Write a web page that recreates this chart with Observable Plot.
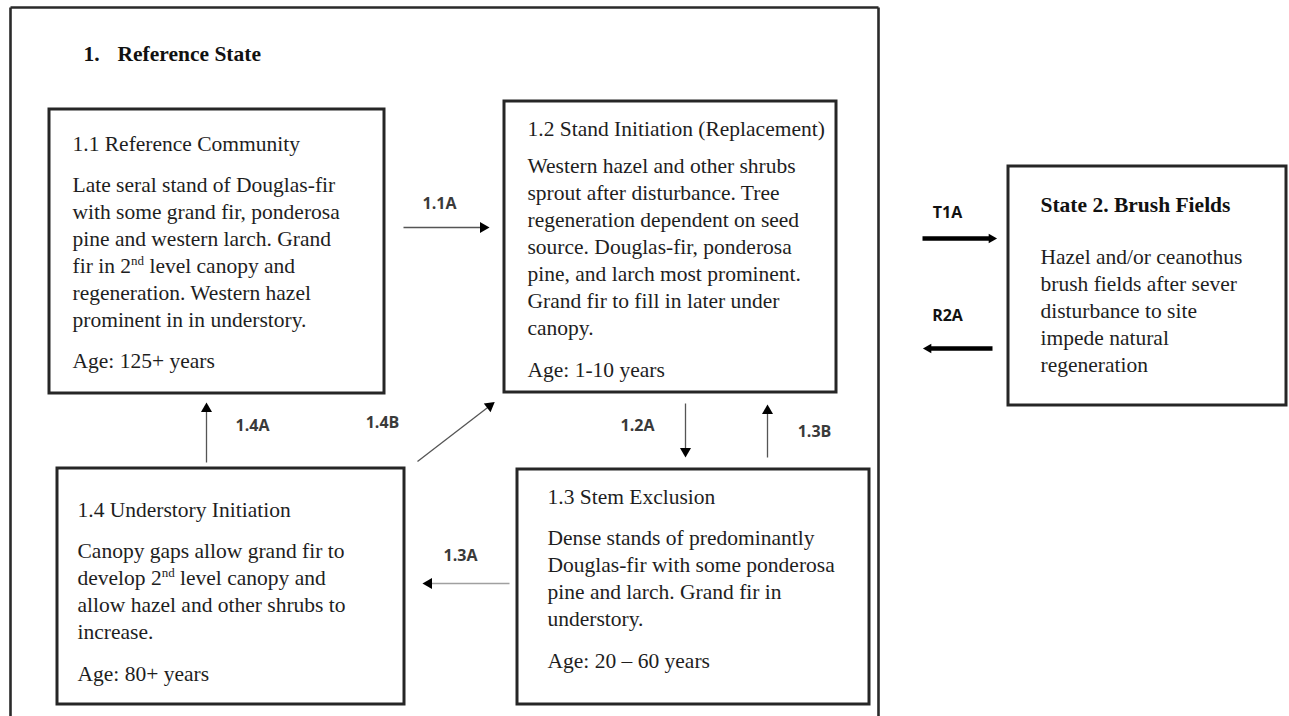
<!DOCTYPE html>
<html>
<head>
<meta charset="utf-8">
<script src="https://cdn.jsdelivr.net/npm/d3@7"></script>
<script src="https://cdn.jsdelivr.net/npm/@observablehq/plot@0.6"></script>
<style>
  html, body { margin: 0; padding: 0; background: #fff; overflow: hidden; }
  #chart svg { display: block; }
</style>
</head>
<body>
<div id="chart"></div>
<script>
// ---------- content ----------
const stateHeading = ["1.", "Reference State"];
const stateIds = ["1.1", "1.2", "1.3", "1.4", "2"];
const stateTitles = [
  "1.1 Reference Community",
  "1.2 Stand Initiation (Replacement)",
  "1.3 Stem Exclusion",
  "1.4 Understory Initiation",
  "State 2. Brush Fields"
];
const stateDescriptions = [
  ["Late seral stand of Douglas-fir", "with some grand fir, ponderosa", "pine and western larch. Grand", "fir in 2{nd} level canopy and", "regeneration. Western hazel", "prominent in in understory."],
  ["Western hazel and other shrubs", "sprout after disturbance. Tree", "regeneration dependent on seed", "source. Douglas-fir, ponderosa", "pine, and larch most prominent.", "Grand fir to fill in later under", "canopy."],
  ["Dense stands of predominantly", "Douglas-fir with some ponderosa", "pine and larch. Grand fir in", "understory."],
  ["Canopy gaps allow grand fir to", "develop 2{nd} level canopy and", "allow hazel and other shrubs to", "increase."],
  ["Hazel and/or ceanothus", "brush fields after sever", "disturbance to site", "impede natural", "regeneration"]
];
const stateAges = ["Age: 125+ years", "Age: 1-10 years", "Age: 20 \u2013 60 years", "Age: 80+ years", null];
const transitionLabels = ["1.1A", "1.2A", "1.3A", "1.3B", "1.4A", "1.4B", "T1A", "R2A"];
const transitionKinds = ["pathway", "pathway", "pathway-light", "pathway", "pathway", "pathway", "transition", "transition"];

// ---------- layout (pixel space; scales are identity) ----------
const outerFrame = {x1: 10, y1: 7, x2: 878, y2: 716};
const headingPos = [[83, 60], [117, 60]];
const boxRects = {      // x1, y1, x2, y2
  "1.1": [49, 109, 384, 393],
  "1.2": [504, 101, 836, 392],
  "1.3": [517, 469, 869, 704],
  "1.4": [57, 468, 404, 704],
  "2":   [1008, 166, 1286, 405]
};
const boxText = {       // text x, title baseline, first body baseline, line step, age baseline
  "1.1": [72, 150, 191, 27, 367],
  "1.2": [527, 135, 172, 27, 376],
  "1.3": [547, 503, 544, 27, 667],
  "1.4": [77, 516, 557, 27, 680],
  "2":   [1040, 211, 263, 27, null]
};
const arrowGeom = {     // from x, from y, to x, to y, label x, label y
  "1.1A": [403, 227, 490, 227, 439, 203],
  "1.2A": [685, 403, 685, 458, 637, 425],
  "1.3A": [509, 583, 421, 583, 460, 555],
  "1.3B": [767, 457, 767, 403, 814, 431],
  "1.4A": [206, 462, 206, 401, 252, 425],
  "1.4B": [417, 461, 495, 401, 382, 422],
  "T1A":  [922, 238, 997, 238, 947, 212],
  "R2A":  [992, 348, 922, 348, 947, 315]
};

// ---------- build tables ----------
const boxes = stateIds.map(id => {
  const [x1, y1, x2, y2] = boxRects[id];
  return {id, x1, y1, x2, y2};
});
const titles = stateIds.map((id, i) => ({id, text: stateTitles[i], x: boxText[id][0], y: boxText[id][1], bold: id === "2"}));
const bodyLines = stateIds.flatMap((id, i) => stateDescriptions[i].map((t, j) => ({
  id, text: t, x: boxText[id][0], y: boxText[id][2] + j * boxText[id][3]
})));
const ages = stateIds.map((id, i) => ({id, text: stateAges[i], x: boxText[id][0], y: boxText[id][4]})).filter(d => d.text);

const arrows = transitionLabels.map((lab, i) => {
  const [x1, y1, x2, y2, lx, ly] = arrowGeom[lab];
  const kind = transitionKinds[i];
  const len = Math.hypot(x2 - x1, y2 - y1);
  const ux = (x2 - x1) / len, uy = (y2 - y1) / len;
  const headLen = kind === "transition" ? 9 : 11;
  const back = headLen * 2 / 3;
  return {
    lab, kind, x1, y1, x2, y2, lx, ly,
    sx2: x2 - ux * headLen * 0.6, sy2: y2 - uy * headLen * 0.6,
    hx: x2 - ux * back, hy: y2 - uy * back,
    rot: Math.atan2(ux, -uy) * 180 / Math.PI
  };
});
const pathways = arrows.filter(d => d.kind !== "transition");
const transitions = arrows.filter(d => d.kind === "transition");

const frameSegs = [
  {x1: outerFrame.x1, y1: outerFrame.y1, x2: outerFrame.x1, y2: outerFrame.y2},
  {x1: outerFrame.x1, y1: outerFrame.y1, x2: outerFrame.x2, y2: outerFrame.y1},
  {x1: outerFrame.x2, y1: outerFrame.y1, x2: outerFrame.x2, y2: outerFrame.y2}
];

const serif = "Liberation Serif, Times New Roman, serif";
const sans = "Open Sans, Liberation Sans, sans-serif";
const textCommon = {x: "x", y: "y", text: "text", textAnchor: "start", lineAnchor: "bottom", fontFamily: serif, fontSize: 21.5};

const chart = Plot.plot({
  width: 1289,
  height: 716,
  margin: 0,
  x: {domain: [0, 1289], range: [0, 1289], axis: null},
  y: {domain: [0, 716], range: [0, 716], axis: null},
  style: {background: "#fff"},
  marks: [
    Plot.link(frameSegs, {x1: "x1", y1: "y1", x2: "x2", y2: "y2", stroke: "#2a2a2a", strokeWidth: 2.6}),
    Plot.rect(boxes, {x1: "x1", y1: "y1", x2: "x2", y2: "y2", fill: "#fff", stroke: "#262626", strokeWidth: 3}),
    Plot.text(headingPos.map((p, i) => ({text: stateHeading[i], x: p[0], y: p[1]})), {
      ...textCommon, fontWeight: "bold", fill: "#111"
    }),
    Plot.text(titles.filter(d => !d.bold), {...textCommon, fill: "#1e1e1e"}),
    Plot.text(titles.filter(d => d.bold), {...textCommon, fontWeight: "bold", fill: "#111"}),
    Plot.text(bodyLines, {...textCommon, fill: "#1e1e1e"}),
    Plot.text(ages, {...textCommon, fill: "#1e1e1e"}),
    // arrow shafts
    Plot.link(pathways, {
      x1: "x1", y1: "y1", x2: "sx2", y2: "sy2",
      stroke: d => d.kind === "pathway-light" ? "#a0a0a0" : "#555",
      strokeWidth: 1.3
    }),
    Plot.link(transitions, {
      x1: "x1", y1: "y1", x2: "sx2", y2: "sy2",
      stroke: "#000", strokeWidth: 4.5
    }),
    // arrow heads
    Plot.dot(pathways, {x: "hx", y: "hy", symbol: "triangle", r: 4.1, rotate: "rot", fill: "#000", stroke: "none"}),
    Plot.dot(transitions, {x: "hx", y: "hy", symbol: "triangle", r: 3.6, rotate: "rot", fill: "#000", stroke: "none"}),
    // transition labels
    Plot.text(pathways, {
      x: "lx", y: "ly", text: "lab", textAnchor: "middle", lineAnchor: "middle",
      fontFamily: sans, fontSize: 16, fontWeight: "bold", fill: "#3a3a3a"
    }),
    Plot.text(transitions, {
      x: "lx", y: "ly", text: "lab", textAnchor: "middle", lineAnchor: "middle",
      fontFamily: sans, fontSize: 16, fontWeight: "bold", fill: "#111"
    })
  ]
});

document.getElementById("chart").appendChild(chart);

// superscripts: "{nd}" -> raised small text
chart.querySelectorAll("text").forEach(el => {
  const s = el.textContent;
  if (!s.includes("{")) return;
  const parts = s.split(/(\{[^}]*\})/);
  el.textContent = "";
  let raised = false;
  parts.forEach(p => {
    if (!p) return;
    const ts = document.createElementNS("http://www.w3.org/2000/svg", "tspan");
    if (p.startsWith("{")) {
      ts.textContent = p.slice(1, -1);
      ts.setAttribute("font-size", "13");
      ts.setAttribute("dy", "-8");
      raised = true;
    } else {
      ts.textContent = p;
      if (raised) { ts.setAttribute("dy", "8"); raised = false; }
    }
    el.appendChild(ts);
  });
});
</script>
</body>
</html>
